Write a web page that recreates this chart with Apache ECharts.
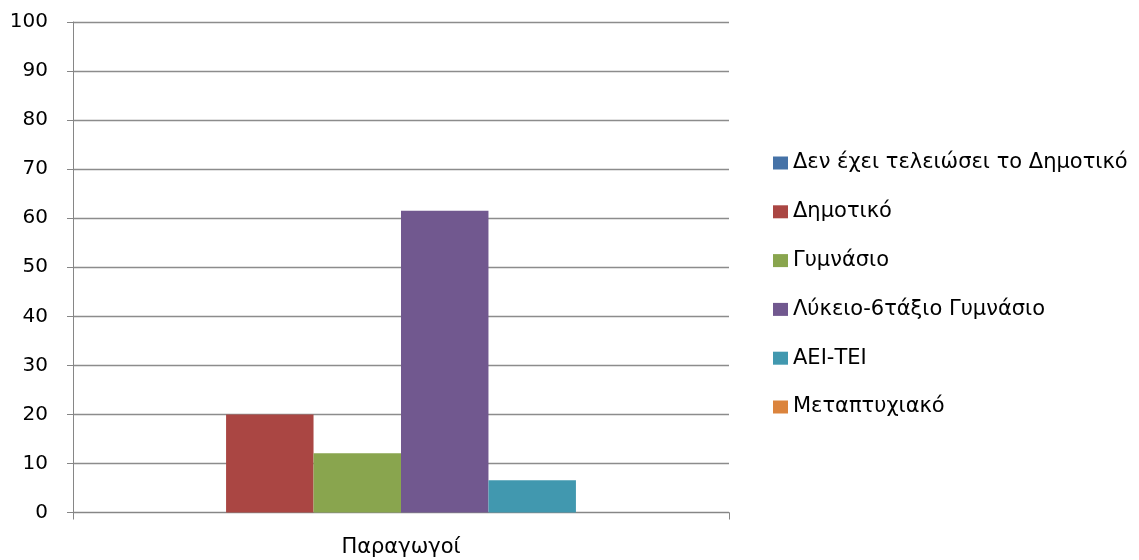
<!DOCTYPE html>
<html>
<head>
<meta charset="utf-8">
<script src="https://cdn.jsdelivr.net/npm/echarts@6/dist/echarts.min.js"></script>
<style>
  html, body { margin: 0; padding: 0; background: #ffffff; }
  #chart { width: 1139px; height: 560px; }
</style>
</head>
<body>
<div id="chart"></div>
<script>
// Education level of producers (%)
const categories = ['Παραγωγοί'];
const seriesNames = [
  'Δεν έχει τελειώσει το Δημοτικό',
  'Δημοτικό',
  'Γυμνάσιο',
  'Λύκειο-6τάξιο Γυμνάσιο',
  'ΑΕΙ-ΤΕΙ',
  'Μεταπτυχιακό'
];
const seriesValues = [
  [0],
  [20.0],
  [12.1],
  [61.5],
  [6.6],
  [0]
];
const seriesColors = ['#4572A7', '#AA4643', '#89A54E', '#71588F', '#4198AF', '#DB843D'];

const fontFamily = '"DejaVu Sans", "Open Sans", sans-serif';

const chart = echarts.init(document.getElementById('chart'), null, { renderer: 'canvas' });

chart.setOption({
  animation: false,
  backgroundColor: '#ffffff',
  grid: { left: 73, right: 410, top: 22, bottom: 47.5, containLabel: false },
  legend: {
    orient: 'vertical',
    left: 768,
    top: 147,
    itemWidth: 15,
    itemHeight: 13,
    itemGap: 26.8,
    icon: 'rect',
    textStyle: { fontFamily: fontFamily, fontSize: 21, lineHeight: 22, color: '#000000' },
    data: seriesNames
  },
  xAxis: {
    type: 'category',
    data: categories,
    axisLine: { lineStyle: { color: '#868686', width: 1 } },
    axisTick: { show: true, length: 7, lineStyle: { color: '#868686' } },
    axisLabel: { fontFamily: fontFamily, fontSize: 21, color: '#000000', margin: 25 }
  },
  yAxis: {
    type: 'value',
    min: 0,
    max: 100,
    interval: 10,
    axisLine: { show: true, lineStyle: { color: '#868686', width: 1 } },
    axisTick: { show: true, length: 6, lineStyle: { color: '#868686' } },
    axisLabel: { fontFamily: fontFamily, fontSize: 20, color: '#000000', margin: 25 },
    splitLine: { show: true, lineStyle: { color: '#8c8c8c', width: 1.3 } }
  },
  series: seriesNames.map((name, i) => ({
    name: name,
    type: 'bar',
    data: seriesValues[i],
    barGap: '0%',
    barCategoryGap: '20%',
    itemStyle: { color: seriesColors[i] }
  }))
});
</script>
</body>
</html>
